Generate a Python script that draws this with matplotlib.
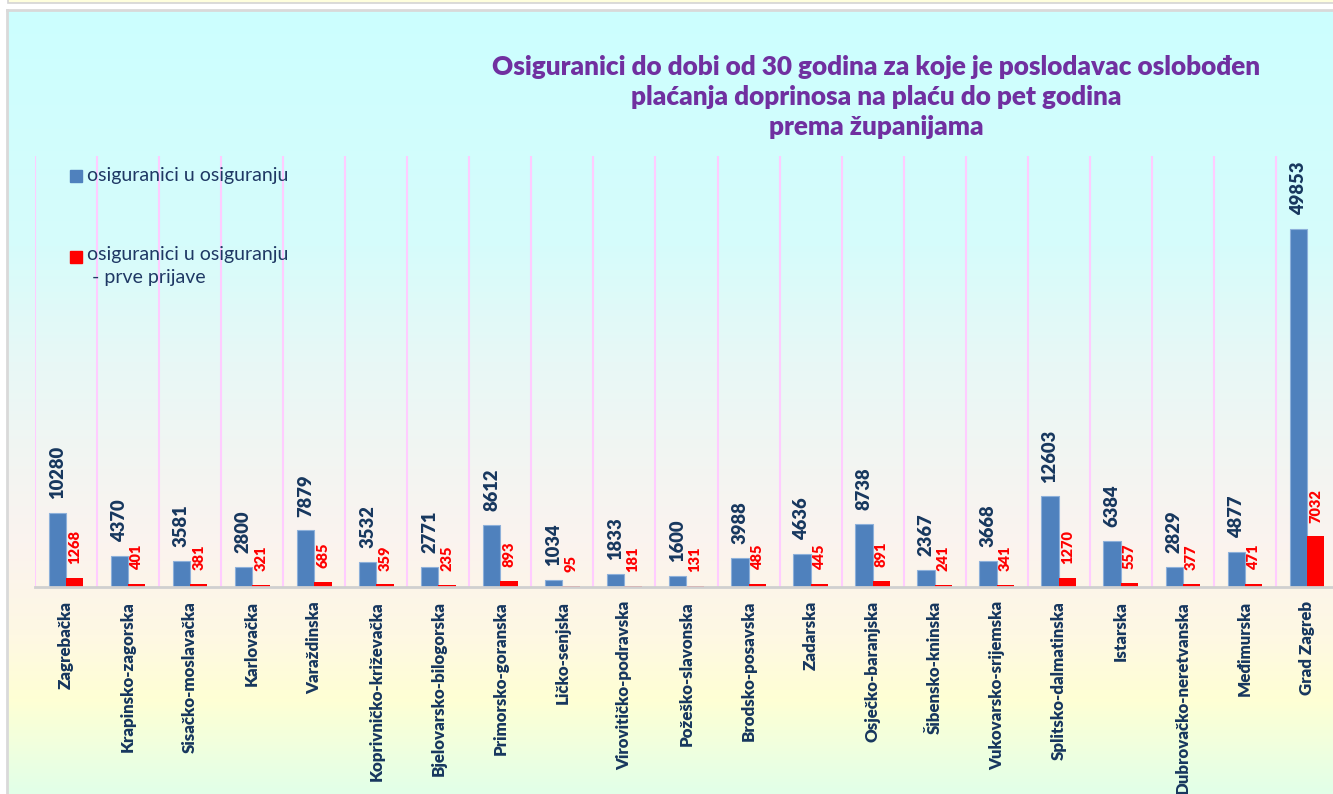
import numpy as np
import matplotlib.pyplot as plt
from matplotlib.colors import LinearSegmentedColormap
from matplotlib.patches import Rectangle

plt.rcParams['font.family'] = ['Lato', 'DejaVu Sans']

# podaci po županijama
zupanije = ['Zagrebačka', 'Krapinsko-zagorska', 'Sisačko-moslavačka', 'Karlovačka',
            'Varaždinska', 'Koprivničko-križevačka', 'Bjelovarsko-bilogorska',
            'Primorsko-goranska', 'Ličko-senjska', 'Virovitičko-podravska',
            'Požeško-slavonska', 'Brodsko-posavska', 'Zadarska', 'Osječko-baranjska',
            'Šibensko-kninska', 'Vukovarsko-srijemska', 'Splitsko-dalmatinska',
            'Istarska', 'Dubrovačko-neretvanska', 'Međimurska', 'Grad Zagreb']
osiguranici = [10280, 4370, 3581, 2800, 7879, 3532, 2771, 8612, 1034, 1833, 1600,
               3988, 4636, 8738, 2367, 3668, 12603, 6384, 2829, 4877, 49853]
prve_prijave = [1268, 401, 381, 321, 685, 359, 235, 893, 95, 181, 131,
                485, 445, 891, 241, 341, 1270, 557, 377, 471, 7032]

naslov = ('Osiguranici do dobi od 30 godina za koje je poslodavac oslobođen\n'
          'plaćanja doprinosa na plaću do pet godina\n'
          'prema županijama')
legenda = ['osiguranici u osiguranju', 'osiguranici u osiguranju\n - prve prijave']

W, H = 1333, 794
navy = '#17375E'
blue = '#4F81BD'
red = '#FF0000'

fig = plt.figure(figsize=(W / 100, H / 100), dpi=100)
fig.patch.set_facecolor('white')

# traka gore (dio prethodnog okvira)
fig.patches.append(Rectangle((8 / W, 1 - 3 / H), 1, 10 / H, transform=fig.transFigure,
                             facecolor='#FFFFDD', edgecolor='#D4D4D4', lw=1.2))

# gradijent pozadine grafikona
bg = fig.add_axes([7 / W, 0, 1 - 7 / W, 1 - 10 / H], zorder=0)
cmap = LinearSegmentedColormap.from_list('pozadina', [
    (0.0, '#CCFFFF'), (0.30, '#D6FCFB'), (0.45, '#E8F8F6'), (0.68, '#FBF3EF'),
    (0.80, '#FEF8E3'), (0.88, '#FFFFD4'), (1.0, '#E2FFE8')])
bg.imshow(np.linspace(0, 1, 256).reshape(-1, 1), aspect='auto', cmap=cmap,
          extent=[0, 1, 0, 1])
bg.set_xticks([])
bg.set_yticks([])
for s in bg.spines.values():
    s.set_color('#D9D9D9')
    s.set_linewidth(2)
bg.spines['right'].set_visible(False)
bg.spines['bottom'].set_visible(False)

ax = fig.add_axes([35 / W, 1 - 587 / H, 1303 / W, 431 / H], zorder=1)
ax.patch.set_alpha(0)

x = np.arange(len(zupanije))
w = 0.28
ax.bar(x - w / 2, osiguranici, w, color=blue, edgecolor='#8DB0DA', lw=0.8, zorder=3)
ax.bar(x + w / 2, prve_prijave, w, color=red, zorder=3)

for xi, v in zip(x, osiguranici):
    ax.annotate(str(v), (xi - w / 2, v), xytext=(0, 10), textcoords='offset points',
                rotation=90, ha='center', va='bottom', fontsize=13.2,
                fontweight='heavy', color=navy)
for xi, v in zip(x, prve_prijave):
    ax.annotate(str(v), (xi + w / 2, v), xytext=(0, 10), textcoords='offset points',
                rotation=90, ha='center', va='bottom', fontsize=10.5,
                fontweight='heavy', color=red)

ax.set_xlim(-0.5, len(zupanije) - 0.5)
ax.set_ylim(0, 60000)
ax.set_yticks([])
ax.set_xticks(x)
ax.set_xticklabels(zupanije, rotation=90, fontsize=12.2, fontweight='heavy', color=navy)
ax.set_xticks(np.arange(-0.5, len(zupanije), 1), minor=True)
ax.tick_params(axis='x', which='both', length=0, pad=10)
ax.grid(which='minor', axis='x', color='#FFCCFF', lw=1.5, zorder=0)
for s in ['left', 'right', 'top']:
    ax.spines[s].set_visible(False)
ax.spines['bottom'].set_color('#D0D0D0')
ax.spines['bottom'].set_linewidth(2)
ax.spines['bottom'].set_zorder(4)

# legenda
fig.patches.append(Rectangle((70 / W, 1 - 182 / H), 12 / W, 12 / H,
                             transform=fig.transFigure, color=blue, zorder=5))
fig.text(87 / W, 1 - 176 / H, legenda[0], va='center', ha='left', fontsize=14,
         color='#1F3864', zorder=5)
fig.patches.append(Rectangle((70 / W, 1 - 263 / H), 12 / W, 12 / H,
                             transform=fig.transFigure, color=red, zorder=5))
fig.text(87 / W, 1 - 246 / H, legenda[1], va='top', ha='left', fontsize=14,
         color='#1F3864', linespacing=1.4, zorder=5)

fig.text(876 / W, 1 - 97 / H, naslov, ha='center', va='center', fontsize=18.8,
         fontweight='heavy', color='#7030A0', linespacing=1.3, zorder=5)

fig.savefig('out.png', dpi=100)
